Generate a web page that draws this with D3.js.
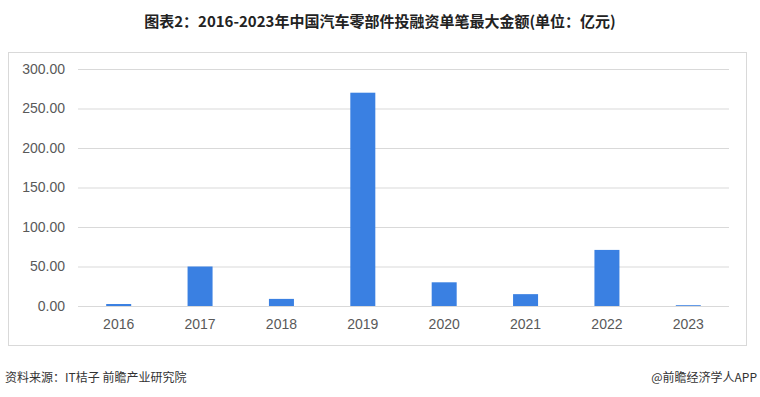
<!DOCTYPE html>
<html>
<head>
<meta charset="utf-8">
<script src="https://cdn.jsdelivr.net/npm/d3@7"></script>
<style>
  body { margin: 0; background: #fff; }
  svg { display: block; font-family: "Noto Sans CJK SC", "Noto Sans", sans-serif; }
</style>
</head>
<body>
<svg id="chart" width="760" height="397"></svg>
<script>
var years = ["2016", "2017", "2018", "2019", "2020", "2021", "2022", "2023"];
var values = [2.5, 50, 9, 270, 30, 15, 71, 1];
var y_ticks = [0, 50, 100, 150, 200, 250, 300];

var margin = {top: 69, right: 31, bottom: 91, left: 78},
    width = 760 - margin.left - margin.right,
    height = 397 - margin.top - margin.bottom;

var svg = d3.select("#chart");

// title
svg.append("text")
    .attr("x", 380)
    .attr("y", 27)
    .attr("text-anchor", "middle")
    .attr("font-size", 15)
    .attr("font-weight", "bold")
    .attr("fill", "#222")
    .text("图表2：2016-2023年中国汽车零部件投融资单笔最大金额(单位：亿元)");

// panel border
svg.append("rect")
    .attr("x", 8.5)
    .attr("y", 52.5)
    .attr("width", 738)
    .attr("height", 293)
    .attr("fill", "none")
    .attr("stroke", "#d9d9d9");

var chart = svg.append("g")
    .attr("transform", "translate(" + margin.left + "," + margin.top + ")");

var x = d3.scaleBand()
    .domain(years)
    .range([0, width]);

var y = d3.scaleLinear()
    .domain([0, 300])
    .range([height, 0]);

var yAxis = d3.axisLeft(y)
    .tickValues(y_ticks)
    .tickSize(-width)
    .tickPadding(13)
    .tickFormat(d3.format(".2f"));

var gy = chart.append("g").call(yAxis);
gy.select(".domain").remove();
gy.selectAll(".tick line").attr("stroke", "#d9d9d9");
gy.selectAll(".tick text")
    .attr("font-size", 14)
    .attr("fill", "#595959");

var xAxis = d3.axisBottom(x).tickSize(0).tickPadding(13);
var gx = chart.append("g")
    .attr("transform", "translate(0," + height + ")")
    .call(xAxis);
gx.select(".domain").remove();
gx.selectAll(".tick text")
    .attr("font-size", 14)
    .attr("fill", "#595959");

var bar_width = 25;
chart.selectAll(".bar")
    .data(years)
  .enter().append("rect")
    .attr("class", "bar")
    .attr("x", function(d) { return x(d) + x.bandwidth() / 2 - bar_width / 2; })
    .attr("y", function(d, i) { return y(values[i]); })
    .attr("width", bar_width)
    .attr("height", function(d, i) { return height - y(values[i]); })
    .attr("fill", "#3a80e2");

// footer
svg.append("text")
    .attr("x", 5)
    .attr("y", 382)
    .attr("font-size", 12)
    .attr("fill", "#333")
    .text("资料来源：IT桔子 前瞻产业研究院");

svg.append("text")
    .attr("x", 757)
    .attr("y", 382)
    .attr("text-anchor", "end")
    .attr("font-size", 12)
    .attr("fill", "#333")
    .text("@前瞻经济学人APP");
</script>
</body>
</html>
